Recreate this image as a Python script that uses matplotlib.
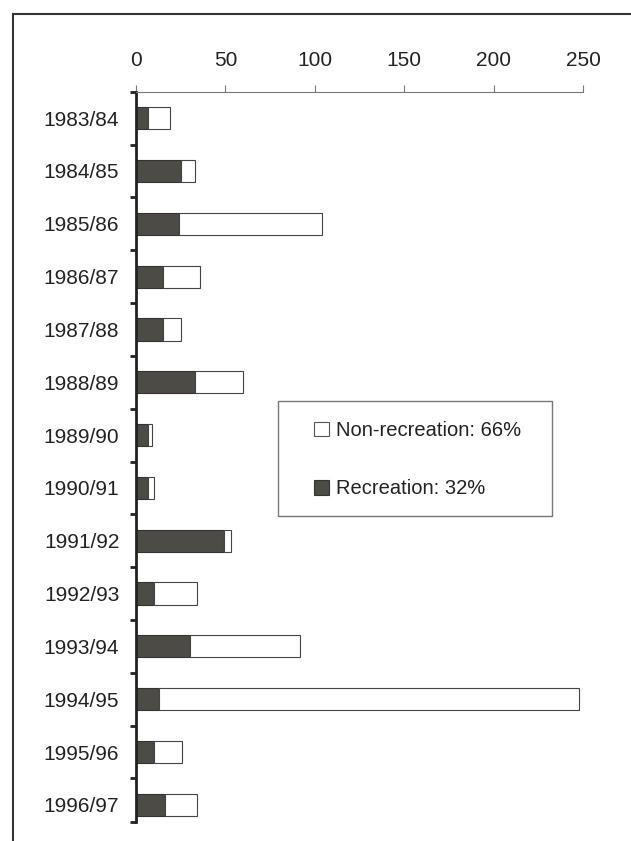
import numpy as np
import matplotlib
matplotlib.use("Agg")
import matplotlib.pyplot as plt
from matplotlib.patches import Patch, Rectangle
from matplotlib.lines import Line2D

plt.rcParams['font.family'] = ['Liberation Sans', 'DejaVu Sans']

# seasons and the two components of each bar
seasons = ['1983/84', '1984/85', '1985/86', '1986/87', '1987/88', '1988/89',
           '1989/90', '1990/91', '1991/92', '1992/93', '1993/94', '1994/95',
           '1995/96', '1996/97']
recreation = [6.5, 25, 24, 15, 15, 33, 6.5, 6.5, 49, 10, 30, 13, 10, 16]
total = [19, 33, 104, 36, 25, 60, 9, 10, 53, 34, 92, 248, 26, 34]
non_recreation = [t - r for t, r in zip(total, recreation)]

dark = '#4c4b46'

fig = plt.figure(figsize=(6.31, 8.41), dpi=100)
ax = fig.add_axes([0.2155, 0.0229, 0.7084, 0.868])

y = np.arange(len(seasons))
ax.barh(y, recreation, height=0.42, color=dark, edgecolor='#333333', linewidth=0.8)
ax.barh(y, non_recreation, left=recreation, height=0.42, color='white',
        edgecolor='#444444', linewidth=0.8)

ax.set_xlim(0, 250)
ax.set_ylim(13.32, -0.5)

# x axis along the top
ax.xaxis.tick_top()
ax.set_xticks([0, 50, 100, 150, 200, 250])
ax.tick_params(axis='x', direction='out', length=5, width=0.8, color='#777777',
               pad=11, labelsize=15, labelcolor='#222222')

# category labels with tick marks between the bands
ax.set_yticks(y)
ax.set_yticklabels(seasons)
ax.tick_params(axis='y', which='major', length=0, pad=12, labelsize=15,
               labelcolor='#222222')
ax.set_yticks(list(np.arange(-0.5, 13, 1.0)) + [13.32], minor=True)
ax.tick_params(axis='y', which='minor', direction='out', length=4, width=2,
               color='#222222')

for side in ['bottom', 'right']:
    ax.spines[side].set_visible(False)
ax.spines['top'].set_color('#777777')
ax.spines['top'].set_linewidth(0.8)
ax.spines['left'].set_color('#222222')
ax.spines['left'].set_linewidth(2)

# legend box and entries
fig.patches.append(Rectangle((0.4406, 0.3864), 0.4342, 0.1367, transform=fig.transFigure,
                             facecolor='white', edgecolor='#777777', linewidth=1,
                             zorder=3))
handles = [Patch(facecolor='white', edgecolor='#555555', linewidth=0.8,
                 label='Non-recreation: 66%'),
           Patch(facecolor=dark, edgecolor='#333333', linewidth=0.8,
                 label='Recreation: 32%')]
leg = fig.legend(handles=handles, loc='upper left', bbox_to_anchor=(0.497, 0.4994),
                 frameon=False, fontsize=14.5, handlelength=0.75, handleheight=0.75,
                 handletextpad=0.35, labelspacing=1.95, borderpad=0, borderaxespad=0)
leg.set_zorder(4)
for t in leg.get_texts():
    t.set_color('#222222')

# page frame
fig.lines.append(Line2D([13 / 631, 13 / 631], [0, 1 - 14 / 841], transform=fig.transFigure,
                        color='#333333', linewidth=1.5))
fig.lines.append(Line2D([13 / 631, 1], [1 - 14 / 841, 1 - 14 / 841], transform=fig.transFigure,
                        color='#333333', linewidth=1.5))

fig.savefig('out.png', dpi=100)
